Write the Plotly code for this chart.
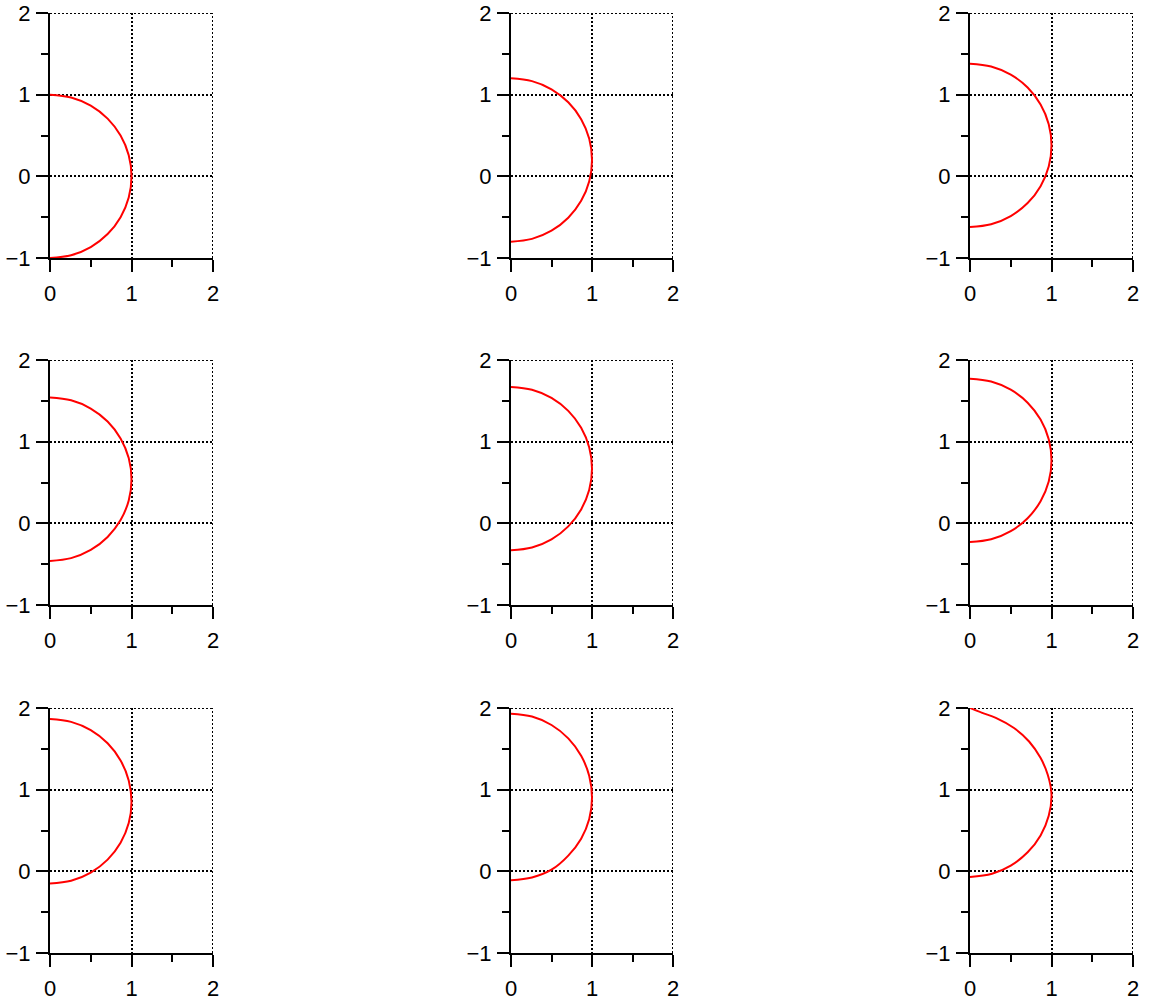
import plotly.graph_objects as go
from plotly.subplots import make_subplots

# tick labels / values
X_TICKS = [0, 1, 2]
X_TICK_LABELS = ['0', '1', '2']
Y_TICKS = [-1, 0, 1, 2]
Y_TICK_LABELS = ['\u22121', '0', '1', '2']
X_RANGE = [0, 2]
Y_RANGE = [-1, 2]

# x of the arc (bottom -> right -> top), shared by the near-circular panels
ARC_X = [0, 0.259, 0.5, 0.707, 0.866, 0.966, 1.0, 0.966, 0.866, 0.707, 0.5, 0.259, 0]

P1_Y = [-1.0, -0.966, -0.866, -0.707, -0.5, -0.259, 0.0, 0.259, 0.5, 0.707, 0.866, 0.966, 1.0]
P2_Y = [-0.8, -0.766, -0.666, -0.507, -0.3, -0.059, 0.2, 0.459, 0.7, 0.907, 1.066, 1.166, 1.2]
P3_Y = [-0.62, -0.586, -0.486, -0.327, -0.12, 0.121, 0.38, 0.639, 0.88, 1.087, 1.246, 1.346, 1.38]
P4_Y = [-0.46, -0.426, -0.326, -0.167, 0.04, 0.281, 0.54, 0.799, 1.04, 1.247, 1.406, 1.506, 1.54]
P5_Y = [-0.33, -0.296, -0.196, -0.037, 0.17, 0.411, 0.67, 0.929, 1.17, 1.377, 1.536, 1.636, 1.67]
P6_Y = [-0.23, -0.196, -0.096, 0.063, 0.27, 0.511, 0.77, 1.029, 1.27, 1.477, 1.636, 1.736, 1.77]
P7_Y = [-0.15, -0.116, -0.016, 0.143, 0.35, 0.591, 0.85, 1.113, 1.358, 1.568, 1.729, 1.83, 1.865]
P8_Y = [-0.11, -0.075, 0.02, 0.193, 0.4, 0.641, 0.9, 1.167, 1.415, 1.628, 1.792, 1.895, 1.93]

# the last one is pulled up to a point at the top
P9_X = [0, 0.27, 0.5, 0.707, 0.866, 0.966, 1.0, 0.955, 0.865, 0.725, 0.54, 0.317, 0.15, 0]
P9_Y = [-0.069, -0.03, 0.07, 0.233, 0.44, 0.681, 0.94, 1.18, 1.39, 1.59, 1.755, 1.88, 1.94, 2.0]

panels = [
    (ARC_X, P1_Y), (ARC_X, P2_Y), (ARC_X, P3_Y),
    (ARC_X, P4_Y), (ARC_X, P5_Y), (ARC_X, P6_Y),
    (ARC_X, P7_Y), (ARC_X, P8_Y), (P9_X, P9_Y),
]

W, H = 1154, 1003
# pixel box of each plot area
col_px = [(50, 213), (511, 673), (970, 1133)]
row_px = [(13, 258), (360, 605), (708, 953)]

fig = make_subplots(rows=3, cols=3)

common = dict(
    showline=True, linecolor='black', linewidth=2,
    ticks='outside', ticklen=12, tickwidth=2, tickcolor='black',
    showgrid=True, gridcolor='black', gridwidth=2, griddash='2px,2px',
    zeroline=False, automargin=False, ticklabeloverflow='allow',
    tickfont=dict(family='Liberation Sans, Arial, sans-serif', size=22, color='black'),
    minor=dict(ticks='outside', ticklen=7, tickwidth=2, tickcolor='black', dtick=0.5, showgrid=False),
)

for i, (xs, ys) in enumerate(panels):
    r, c = i // 3 + 1, i % 3 + 1
    fig.add_trace(
        go.Scatter(x=xs, y=ys, mode='lines', line=dict(color='#ff0000', width=2, shape='spline'),
                   showlegend=False, hoverinfo='skip'),
        row=r, col=c,
    )
    x0, x1 = col_px[c - 1]
    y0, y1 = row_px[r - 1]
    fig.update_xaxes(range=X_RANGE, tickvals=X_TICKS, ticktext=X_TICK_LABELS, domain=[x0 / W, x1 / W],
                     ticklabelstandoff=3, row=r, col=c, **common)
    fig.update_yaxes(range=Y_RANGE, tickvals=Y_TICKS, ticktext=Y_TICK_LABELS, domain=[1 - y1 / H, 1 - y0 / H],
                     ticklabelstandoff=1, row=r, col=c, **common)

    # plotly drops grid lines on the far edges, add them back
    sfx = '' if i == 0 else str(i + 1)
    dotted = dict(color='black', width=2, dash='2px,2px')
    fig.add_shape(type='line', xref='x' + sfx, yref='y' + sfx + ' domain',
                  x0=X_RANGE[1], x1=X_RANGE[1], y0=0, y1=1, line=dotted, layer='below')
    fig.add_shape(type='line', xref='x' + sfx + ' domain', yref='y' + sfx,
                  x0=0, x1=1, y0=Y_RANGE[1], y1=Y_RANGE[1], line=dotted, layer='below')

fig.update_layout(
    width=W, height=H,
    margin=dict(l=0, r=0, t=0, b=0),
    plot_bgcolor='white', paper_bgcolor='white',
)

# drop the default 8px page margin so the figure fills the window
fig.write_html("out.html", config={'displayModeBar': False},
               post_script="document.body.style.margin = '0';")
